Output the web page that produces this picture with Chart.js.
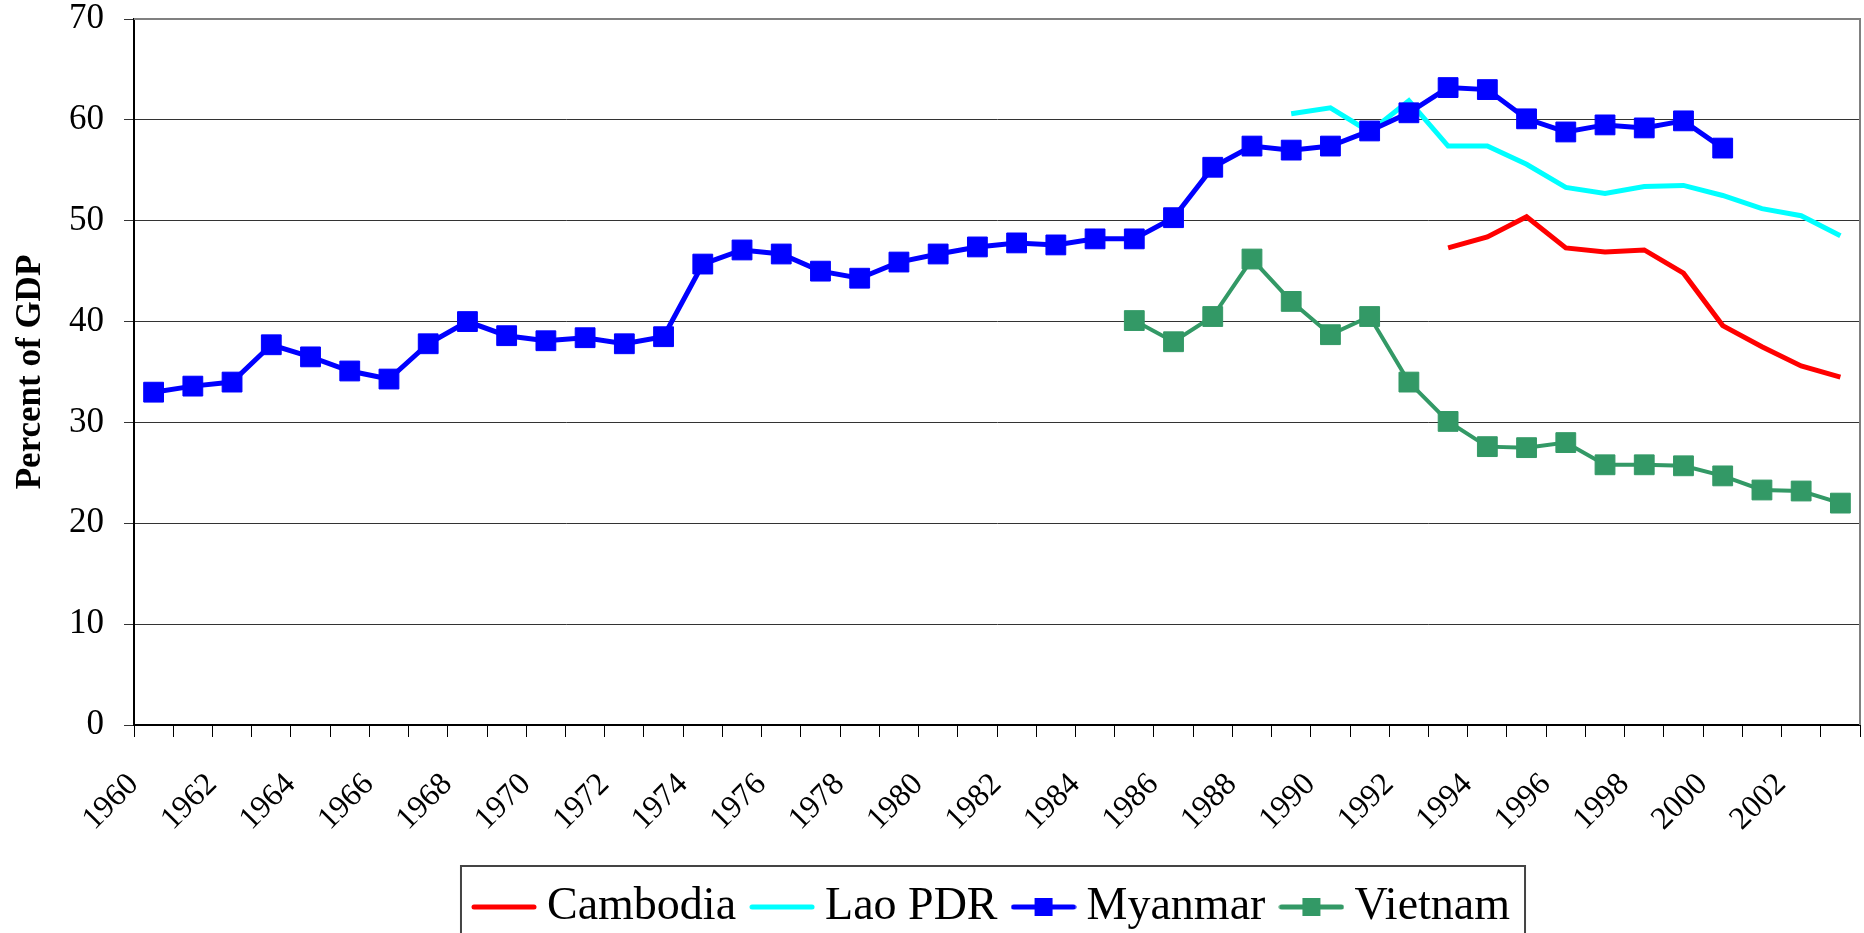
<!DOCTYPE html>
<html><head><meta charset="utf-8">
<script src="https://cdn.jsdelivr.net/npm/chart.js@4.4.1/dist/chart.umd.min.js"></script>
<style>html,body{margin:0;padding:0;background:#fff;overflow:hidden}#wrap{width:1864px;height:933px;position:relative}</style>
</head><body><div id="wrap"><canvas id="c" width="1864" height="933" style="width:1864px;height:933px"></canvas></div>
<script>
const years = ['1960','1961','1962','1963','1964','1965','1966','1967','1968','1969',
  '1970','1971','1972','1973','1974','1975','1976','1977','1978','1979',
  '1980','1981','1982','1983','1984','1985','1986','1987','1988','1989',
  '1990','1991','1992','1993','1994','1995','1996','1997','1998','1999',
  '2000','2001','2002','2003'];
const shownYearLabels = ['1960','1962','1964','1966','1968','1970','1972','1974','1976','1978','1980',
  '1982','1984','1986','1988','1990','1992','1994','1996','1998','2000','2002'];
const seriesNames = ['Cambodia','Lao PDR','Myanmar','Vietnam'];
const cambodia = [null,null,null,null,null,null,null,null,null,null,
  null,null,null,null,null,null,null,null,null,null,
  null,null,null,null,null,null,null,null,null,null,
  null,null,null,47.3,48.4,50.4,47.3,46.9,47.1,44.8,
  39.6,37.5,35.6,34.5];
const lao = [null,null,null,null,null,null,null,null,null,null,
  null,null,null,null,null,null,null,null,null,null,
  null,null,null,null,null,null,null,null,null,60.6,
  61.2,58.8,61.9,57.4,57.4,55.6,53.3,52.7,53.4,53.5,
  52.5,51.2,50.5,48.5];
const myanmar = [33.0,33.6,34.0,37.7,36.5,35.1,34.3,37.8,40.0,38.6,
  38.1,38.4,37.8,38.5,45.7,47.1,46.7,45.0,44.3,45.9,
  46.7,47.4,47.8,47.6,48.2,48.2,50.3,55.3,57.4,57.0,
  57.4,58.9,60.7,63.2,63.0,60.1,58.8,59.5,59.2,59.9,
  57.2,null,null,null];
const vietnam = [null,null,null,null,null,null,null,null,null,null,
  null,null,null,null,null,null,null,null,null,null,
  null,null,null,null,null,40.1,38.0,40.5,46.2,42.0,
  38.7,40.5,34.0,30.1,27.6,27.5,28.0,25.8,25.8,25.7,
  24.7,23.3,23.2,22.0];
const yTicks = [0,10,20,30,40,50,60,70];

const FONT = '"Liberation Serif","Times New Roman",serif';
const colors = ['#FF0000','#00FFFF','#0000FF','#339966'];

function makeIcon(color, marker) {
  const c = document.createElement('canvas');
  c.width = 66; c.height = 22;
  const g = c.getContext('2d');
  g.strokeStyle = color; g.lineWidth = 5; g.lineCap = 'round';
  g.beginPath(); g.moveTo(3, 11); g.lineTo(63, 11); g.stroke();
  if (marker) { g.fillStyle = color; g.fillRect(33 - 9, 11 - 9, 18, 18); }
  return c;
}
const icons = [makeIcon(colors[0], false), makeIcon(colors[1], false), makeIcon(colors[2], true), makeIcon(colors[3], true)];

const frame = {
  id: 'frame',
  beforeDatasetsDraw(chart) {
    const a = chart.chartArea, ctx = chart.ctx;
    ctx.save();
    ctx.strokeStyle = '#808080'; ctx.lineWidth = 2;
    ctx.beginPath();
    ctx.moveTo(a.left, a.top); ctx.lineTo(a.right, a.top); ctx.lineTo(a.right, a.bottom);
    ctx.stroke();
    ctx.restore();
  },
  afterDraw(chart) {
    const hb = chart.legend.legendHitBoxes;
    if (!hb || !hb.length) return;
    const ctx = chart.ctx;
    const l = hb[0].left - 23;
    const r = hb[hb.length - 1].left + hb[hb.length - 1].width + 15;
    const t = hb[0].top + hb[0].height / 2 - 41;
    ctx.save();
    ctx.strokeStyle = '#444'; ctx.lineWidth = 2;
    ctx.strokeRect(l, t, r - l, 960 - t);
    ctx.restore();
  }
};

const mk = (i, data, marker, lw, order) => ({
  label: seriesNames[i], data, borderColor: colors[i], backgroundColor: colors[i],
  borderWidth: lw, pointStyle: 'rect', pointRadius: marker ? 14 : 0, pointHoverRadius: marker ? 14 : 0,
  pointBorderWidth: 1, pointBorderColor: colors[i], pointBackgroundColor: colors[i],
  tension: 0, spanGaps: false, fill: false, clip: false, order
});

new Chart(document.getElementById('c'), {
  type: 'line',
  data: {
    labels: years,
    datasets: [
      mk(0, cambodia, false, 5, 3),
      mk(1, lao, false, 5, 2),
      mk(2, myanmar, true, 5, 1),
      mk(3, vietnam, true, 4, 0)
    ]
  },
  options: {
    responsive: false, maintainAspectRatio: false, animation: false, devicePixelRatio: 1,
    layout: { autoPadding: false, padding: { left: 0, right: 4, top: 19, bottom: -7 } },
    plugins: {
      tooltip: { enabled: false },
      legend: {
        position: 'bottom', fullSize: false,
        labels: {
          usePointStyle: true, pointStyleWidth: 40, boxHeight: 20, padding: 26,
          color: '#000', font: { family: FONT, size: 46 },
          generateLabels(chart) {
            const items = Chart.defaults.plugins.legend.labels.generateLabels(chart);
            items.forEach(it => { it.pointStyle = icons[it.datasetIndex]; });
            return items;
          },
          sort: (a, b) => a.datasetIndex - b.datasetIndex
        }
      }
    },
    scales: {
      x: {
        type: 'category', offset: true,
        grid: { offset: true, drawOnChartArea: false, drawTicks: true, tickLength: 12, color: '#000', lineWidth: 1 },
        border: { display: true, color: '#000', width: 2 },
        ticks: {
          autoSkip: false, maxRotation: 45, minRotation: 45, padding: 29, labelOffset: -20,
          color: '#000', font: { family: FONT, size: 32 },
          callback(v) { const y = this.getLabelForValue(v); return shownYearLabels.includes(y) ? y : ''; }
        },
        afterFit(s) { s.height = 133; s.paddingLeft = 0; s.paddingRight = 0; }
      },
      y: {
        min: 0, max: 70,
        afterBuildTicks(s) { s.ticks = yTicks.map(v => ({ value: v })); },
        grid: { color: '#333', lineWidth: 1, drawTicks: true, tickLength: 10 },
        border: { display: true, color: '#000', width: 2 },
        ticks: { padding: 20, color: '#000', font: { family: FONT, size: 35 } },
        title: { display: true, text: 'Percent of GDP', color: '#000', font: { family: FONT, size: 35, weight: 'bold' }, padding: { top: 10, bottom: 0 } },
        afterFit(s) { s.width = 134; s.paddingTop = 0; s.paddingBottom = 0; }
      }
    }
  },
  plugins: [frame]
});
</script></body></html>
